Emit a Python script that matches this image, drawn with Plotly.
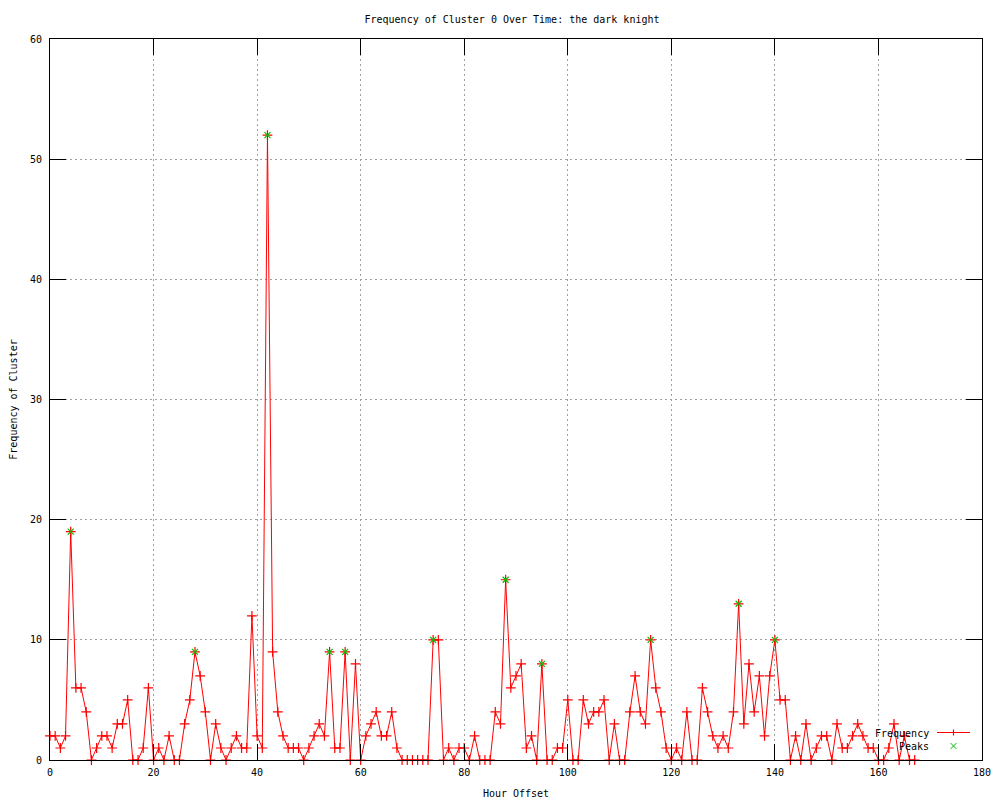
import plotly.graph_objects as go

hours = list(range(168))
frequency = [
    2, 2, 1, 2, 19, 6, 6, 4, 0, 1,      # 0-9
    2, 2, 1, 3, 3, 5, 0, 0, 1, 6,       # 10-19
    0, 1, 0, 2, 0, 0, 3, 5, 9, 7,       # 20-29
    4, 0, 3, 1, 0, 1, 2, 1, 1, 12,      # 30-39
    2, 1, 52, 9, 4, 2, 1, 1, 1, 0,      # 40-49
    1, 2, 3, 2, 9, 1, 1, 9, 0, 8,       # 50-59
    0, 2, 3, 4, 2, 2, 4, 1, 0, 0,       # 60-69
    0, 0, 0, 0, 10, 10, 0, 1, 0, 1,     # 70-79
    1, 0, 2, 0, 0, 0, 4, 3, 15, 6,      # 80-89
    7, 8, 1, 2, 0, 8, 0, 0, 1, 1,       # 90-99
    5, 0, 0, 5, 3, 4, 4, 5, 0, 3,       # 100-109
    0, 0, 4, 7, 4, 3, 10, 6, 4, 1,      # 110-119
    0, 1, 0, 4, 0, 0, 6, 4, 2, 1,       # 120-129
    2, 1, 4, 13, 3, 8, 4, 7, 2, 7,      # 130-139
    10, 5, 5, 0, 2, 0, 3, 0, 1, 2,      # 140-149
    2, 0, 3, 1, 1, 2, 3, 2, 1, 1,       # 150-159
    0, 0, 1, 3, 0, 2, 0, 0,             # 160-167
]
peak_hours = [4, 28, 42, 54, 57, 74, 88, 95, 116, 133, 140]
peak_values = [frequency[h] for h in peak_hours]

title_text = "Frequency of Cluster 0 Over Time: the dark knight"
x_label = "Hour Offset"
y_label = "Frequency of Cluster"
x_ticks = [0, 20, 40, 60, 80, 100, 120, 140, 160, 180]
y_ticks = [0, 10, 20, 30, 40, 50, 60]

RED = "#ff0000"
GREEN = "#00c000"
FONT = "DejaVu Sans Mono"

fig = go.Figure()
fig.add_trace(go.Scatter(
    x=hours, y=frequency, mode="lines+markers", name="Frequency",
    line=dict(color=RED, width=1),
    marker=dict(symbol="cross-thin", size=7, line=dict(color=RED, width=1.2), color=RED),
    cliponaxis=False, showlegend=False,
))
fig.add_trace(go.Scatter(
    x=peak_hours, y=peak_values, mode="markers", name="Peaks",
    marker=dict(symbol="x-thin", size=6, line=dict(color=GREEN, width=1.2), color=GREEN),
    cliponaxis=False, showlegend=False,
))

axis_common = dict(
    showline=True, linecolor="black", linewidth=1, mirror="ticks",
    ticks="inside", ticklen=16, tickwidth=1, tickcolor="black",
    showgrid=True, gridcolor="#a0a0a0", gridwidth=1, griddash="2px,3px",
    zeroline=False, tickfont=dict(family=FONT, size=10, color="black"),
    automargin=False,
)
fig.update_xaxes(range=[0, 180], tickvals=x_ticks, ticktext=[str(v) for v in x_ticks],
                 ticklabelstandoff=3,
                 title=dict(text=x_label, font=dict(family=FONT, size=10, color="black"), standoff=12),
                 **axis_common)
fig.update_yaxes(range=[0, 60], tickvals=y_ticks, ticktext=[str(v) for v in y_ticks],
                 ticklabelstandoff=5,
                 title=dict(text=y_label, font=dict(family=FONT, size=10, color="black"), standoff=14),
                 **axis_common)

# gnuplot-style legend: text then sample (positions in page pixels of the plot area)
def px_x(p):
    return (p - 50) / 932.0

def px_y(p):
    return (760 - p) / 721.0

annotations = [
    dict(text="Frequency", x=px_x(931), y=px_y(733), xref="paper", yref="paper",
         xanchor="right", yanchor="middle", showarrow=False,
         font=dict(family=FONT, size=10, color="black")),
    dict(text="Peaks", x=px_x(931), y=px_y(746), xref="paper", yref="paper",
         xanchor="right", yanchor="middle", showarrow=False,
         font=dict(family=FONT, size=10, color="black")),
]
shapes = [
    dict(type="line", xref="paper", yref="paper", x0=px_x(937), x1=px_x(970),
         y0=px_y(732.5), y1=px_y(732.5), line=dict(color=RED, width=1.2)),
    dict(type="line", xref="paper", yref="paper", x0=px_x(953.5), x1=px_x(953.5),
         y0=px_y(729.5), y1=px_y(735.5), line=dict(color=RED, width=1.2)),
    dict(type="line", xref="paper", yref="paper", x0=px_x(950.5), x1=px_x(956.5),
         y0=px_y(743), y1=px_y(749), line=dict(color=GREEN, width=1)),
    dict(type="line", xref="paper", yref="paper", x0=px_x(950.5), x1=px_x(956.5),
         y0=px_y(749), y1=px_y(743), line=dict(color=GREEN, width=1)),
]

# page has an 8px body margin, so the figure is 992x792 and offsets are shifted by 8px
fig.update_layout(
    width=992, height=792,
    margin=dict(l=42, r=18, t=31, b=40, autoexpand=False),
    paper_bgcolor="white", plot_bgcolor="white",
    title=dict(text=title_text, x=(512 - 8) / 992, xanchor="center", y=1 - 11 / 792, yanchor="middle",
               font=dict(family=FONT, size=10, color="black")),
    annotations=annotations, shapes=shapes,
    showlegend=False,
)

fig.write_html("out.html")
